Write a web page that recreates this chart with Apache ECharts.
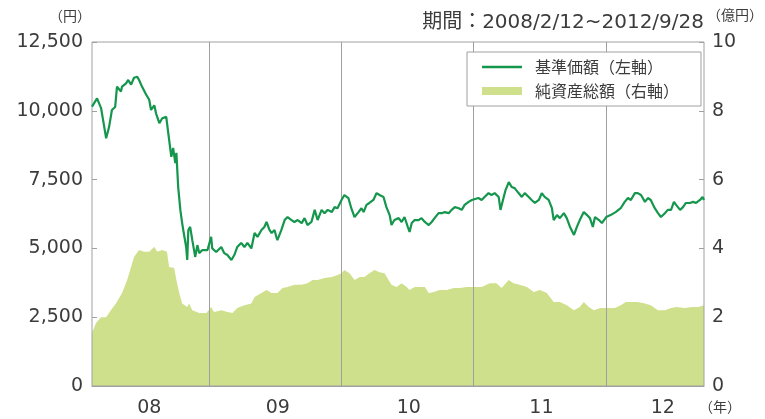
<!DOCTYPE html>
<html><head><meta charset="utf-8">
<script src="https://cdn.jsdelivr.net/npm/echarts@6/dist/echarts.min.js"></script>
<style>html,body{margin:0;padding:0;background:#fff}#c{width:765px;height:419px}</style>
</head><body><div id="c"></div>
<script>
// 基準価額 (円)
const navDates = [
'2008-02-12','2008-02-26','2008-03-08','2008-03-16','2008-03-22','2008-03-30','2008-04-07','2008-04-16','2008-04-21','2008-05-02',
'2008-05-05','2008-05-16','2008-05-22','2008-05-30','2008-06-07','2008-06-16','2008-06-21','2008-06-29','2008-07-10','2008-07-19',
'2008-07-24','2008-08-02','2008-08-07','2008-08-16','2008-08-24','2008-09-04','2008-09-12','2008-09-18','2008-09-23','2008-09-29',
'2008-10-02','2008-10-07','2008-10-13','2008-10-18','2008-10-21','2008-10-29','2008-11-01','2008-11-04','2008-11-09','2008-11-15',
'2008-11-23','2008-11-29','2008-12-04','2008-12-13','2008-12-27',
'2009-01-06','2009-01-09','2009-01-20','2009-02-03','2009-02-11','2009-02-20','2009-03-03','2009-03-11','2009-03-19','2009-03-30',
'2009-04-08','2009-04-16','2009-04-27','2009-05-06','2009-05-14','2009-05-25','2009-06-02','2009-06-08','2009-06-16','2009-06-22',
'2009-06-30','2009-07-05','2009-07-08','2009-07-19','2009-07-28','2009-08-05','2009-08-16','2009-08-24','2009-09-02','2009-09-13',
'2009-09-21','2009-09-29','2009-10-10','2009-10-19','2009-10-27','2009-11-07','2009-11-15','2009-11-24','2009-12-05','2009-12-13',
'2009-12-21',
'2010-01-01','2010-01-09','2010-01-20','2010-01-28','2010-02-06','2010-02-17','2010-02-25','2010-03-03','2010-03-11','2010-03-19',
'2010-03-30','2010-04-08','2010-04-16','2010-04-27','2010-05-05','2010-05-14','2010-05-19','2010-05-27','2010-06-08','2010-06-16',
'2010-06-24','2010-07-03','2010-07-08','2010-07-14','2010-07-22','2010-08-02','2010-08-10','2010-08-19','2010-08-30','2010-09-07',
'2010-09-15','2010-09-26','2010-10-05','2010-10-13','2010-10-24','2010-11-01','2010-11-10','2010-11-21','2010-11-29','2010-12-07',
'2010-12-18','2010-12-27',
'2011-01-14','2011-01-23','2011-01-31','2011-02-11','2011-02-19','2011-02-28','2011-03-11','2011-03-16','2011-03-25','2011-03-30',
'2011-04-08','2011-04-16','2011-04-24','2011-05-05','2011-05-14','2011-05-22','2011-06-02','2011-06-10','2011-06-19','2011-06-30',
'2011-07-08','2011-07-16','2011-07-27','2011-08-05','2011-08-10','2011-08-19','2011-08-27','2011-09-07','2011-09-15','2011-09-24',
'2011-10-05','2011-10-13','2011-10-21','2011-11-01','2011-11-10','2011-11-18','2011-11-26','2011-12-02','2011-12-13','2011-12-21',
'2012-01-02','2012-01-14','2012-01-28','2012-02-11','2012-02-22','2012-03-02','2012-03-10','2012-03-21','2012-03-29','2012-04-07',
'2012-04-18','2012-04-26','2012-05-04','2012-05-15','2012-05-24','2012-06-01','2012-06-12','2012-06-20','2012-06-29','2012-07-07',
'2012-07-13','2012-07-24','2012-08-01','2012-08-09','2012-08-20','2012-08-29','2012-09-06','2012-09-17','2012-09-24','2012-09-28'
];
const navValues = [
10150,10450,10100,9480,9000,9400,10030,10140,10880,10700,
10880,11000,11120,10950,11200,11240,11120,10880,10600,10400,
10030,10200,9900,9550,9730,9780,8940,8330,8650,8100,
8470,7230,6390,5920,5670,5050,4580,5670,5780,5300,
4690,5120,4830,4940,4940,
5420,5000,4870,5050,4830,4760,4580,4760,5050,5200,
5050,5200,5000,5560,5420,5670,5780,5960,5670,5560,
5670,5420,5300,5670,6030,6140,6030,5960,6030,5920,
6100,5850,5960,6400,6030,6400,6280,6400,6320,6500,
6460,
6760,6940,6830,6460,6140,6320,6460,6320,6580,6650,
6760,7010,6940,6870,6500,6210,5850,6030,6100,5960,
6140,5780,5600,5920,6030,6030,6100,5960,5850,5960,
6100,6280,6280,6320,6280,6400,6500,6460,6400,6580,
6690,6760,
6830,6760,6870,7010,6940,7010,6870,6400,6870,7120,
7410,7230,7190,7010,6870,7010,6870,6760,6650,6760,
7010,6870,6760,6460,6030,6210,6100,6280,6100,5780,
5490,5780,6030,6320,6210,6100,5780,6140,6030,5920,
6140,6210,6320,6460,6690,6830,6760,7010,7010,6940,
6690,6830,6760,6460,6280,6140,6280,6400,6400,6690,
6580,6400,6500,6650,6650,6690,6650,6760,6870,6760
];
// 純資産総額 (億円)
const aumDates = [
'2008-02-12','2008-02-23','2008-03-08','2008-03-22','2008-04-04','2008-04-18','2008-05-05','2008-05-19','2008-05-30','2008-06-07',
'2008-06-21','2008-07-05','2008-07-19','2008-08-02','2008-08-10','2008-08-24','2008-09-06','2008-09-12','2008-09-26','2008-10-02',
'2008-10-10','2008-10-18','2008-11-01','2008-11-06','2008-11-15','2008-12-04','2008-12-24',
'2009-01-06','2009-01-14','2009-02-03','2009-02-20','2009-03-06','2009-03-19','2009-04-08','2009-04-27','2009-05-06','2009-05-25',
'2009-06-08','2009-06-22','2009-07-08','2009-07-22','2009-08-05','2009-08-24','2009-09-13','2009-09-29','2009-10-13','2009-10-27',
'2009-11-15','2009-12-05','2009-12-21',
'2010-01-01','2010-01-09','2010-01-23','2010-02-06','2010-02-20','2010-03-05','2010-03-19','2010-04-02','2010-04-16','2010-04-30',
'2010-05-11','2010-05-19','2010-06-02','2010-06-16','2010-06-30','2010-07-08','2010-07-22','2010-08-05','2010-08-19','2010-08-30',
'2010-09-13','2010-09-29','2010-10-19','2010-11-07','2010-11-24','2010-12-13',
'2011-01-01','2011-01-23','2011-02-14','2011-03-05','2011-03-19','2011-04-08','2011-04-21','2011-05-08','2011-05-28','2011-06-16',
'2011-07-03','2011-07-22','2011-08-10','2011-08-27','2011-09-15','2011-10-05','2011-10-21','2011-11-01','2011-11-15','2011-11-29',
'2011-12-16',
'2012-01-01','2012-01-26','2012-02-11','2012-02-25','2012-03-10','2012-03-29','2012-04-18','2012-05-04','2012-05-24','2012-06-12',
'2012-06-29','2012-07-13','2012-08-07','2012-08-24','2012-09-12','2012-09-28'
];
const aumValues = [
1.54,1.83,2.0,2.0,2.2,2.4,2.7,3.08,3.46,3.75,
3.95,3.9,3.9,4.05,3.9,3.95,3.9,3.46,3.43,3.08,
2.7,2.4,2.3,2.4,2.2,2.12,2.12,
2.3,2.15,2.2,2.15,2.12,2.27,2.35,2.4,2.59,2.7,
2.79,2.7,2.7,2.85,2.88,2.94,2.94,2.99,3.08,3.08,
3.14,3.17,3.23,
3.28,3.37,3.28,3.08,3.17,3.17,3.28,3.37,3.31,3.28,
3.08,2.94,2.88,2.99,2.88,2.79,2.88,2.88,2.88,2.7,
2.73,2.79,2.79,2.85,2.85,2.88,
2.88,2.88,2.99,2.99,2.85,3.08,2.99,2.94,2.88,2.73,
2.79,2.7,2.44,2.44,2.35,2.2,2.3,2.44,2.3,2.2,
2.27,
2.27,2.27,2.35,2.44,2.44,2.44,2.4,2.35,2.2,2.2,
2.27,2.3,2.27,2.3,2.3,2.35
];
const yearStarts = ['2009-01-01','2010-01-01','2011-01-01','2012-01-01'];
const yearLabelDates = ['2008-07-19','2009-07-09','2010-07-06','2011-07-07','2012-06-06'];
const seriesNames = ['基準価額（左軸）','純資産総額（右軸）'];

const P = d => echarts.time.parse(d).getTime();
const TXT = '#3c3c3c';
const GRAY = '#a0a0a0';
const LINE = '#15964d';
const AREA = '#cfe08c';
const NUMF = "'DejaVu Sans','Noto Sans CJK JP',sans-serif";
const JPF = "'Noto Sans CJK JP',sans-serif";

const chart = echarts.init(document.getElementById('c'));
chart.setOption({
  animation: false,
  title: [
    {text: '期間：2008/2/12~2012/9/28', right: 61, top: 13, padding: 0,
     textStyle: {fontSize: 20, fontWeight: 'normal', color: TXT, fontFamily: NUMF}},
    {text: '（円）', left: 49, top: 9, padding: 0,
     textStyle: {fontSize: 14, fontWeight: 'normal', color: TXT, fontFamily: JPF}},
    {text: '（億円）', left: 707, top: 8, padding: 0,
     textStyle: {fontSize: 14, fontWeight: 'normal', color: TXT, fontFamily: JPF}},
    {text: '（年）', left: 699, top: 400, padding: 0,
     textStyle: {fontSize: 14, fontWeight: 'normal', color: TXT, fontFamily: JPF}}
  ],
  legend: {
    orient: 'vertical', left: 467, top: 52, z: 10,
    padding: [7, 22, 7, 15], itemGap: 8, itemWidth: 40, itemHeight: 14,
    borderColor: GRAY, borderWidth: 1, backgroundColor: '#fff',
    textStyle: {fontSize: 16, color: TXT, fontFamily: JPF, padding: [0, 0, 0, 8]},
    data: [
      {name: seriesNames[0], icon: 'path://M0,0H40V2.5H0Z'},
      {name: seriesNames[1], icon: 'path://M0,0H40V8H0Z'}
    ]
  },
  grid: {left: 92, right: 61, top: 42, bottom: 33, show: true, borderColor: GRAY, borderWidth: 1, z: 3, backgroundColor: 'transparent'},
  xAxis: {
    type: 'value', min: P(navDates[0]), max: P(navDates[navDates.length - 1]), z: 3,
    axisLine: {show: true, lineStyle: {color: GRAY}},
    axisTick: {show: false, customValues: yearStarts.map(P)},
    splitLine: {show: true, lineStyle: {color: GRAY, width: 1}},
    axisLabel: {
      customValues: yearLabelDates.map(P),
      formatter: v => String(new Date(v).getUTCFullYear()).slice(2),
      fontSize: 19, color: TXT, margin: 13, fontFamily: NUMF
    }
  },
  yAxis: [
    {type: 'value', min: 0, max: 12500, interval: 2500, position: 'left',
     axisLine: {show: false}, splitLine: {show: false},
     axisTick: {show: true, inside: true, length: 5, lineStyle: {color: GRAY}},
     axisLabel: {fontSize: 19, color: TXT, margin: 9, fontFamily: NUMF,
       formatter: v => v.toLocaleString('en-US')}},
    {type: 'value', min: 0, max: 10, interval: 2, position: 'right',
     axisLine: {show: false}, splitLine: {show: false},
     axisTick: {show: true, inside: true, length: 5, lineStyle: {color: GRAY}},
     axisLabel: {fontSize: 19, color: TXT, margin: 8, fontFamily: NUMF}}
  ],
  series: [
    {name: seriesNames[1], type: 'line', yAxisIndex: 1, z: 1, symbol: 'none', showSymbol: false,
     color: AREA, itemStyle: {color: AREA}, lineStyle: {width: 0, color: AREA},
     areaStyle: {color: AREA, opacity: 1},
     data: aumDates.map((d, i) => [P(d), aumValues[i]])},
    {name: seriesNames[0], type: 'line', yAxisIndex: 0, z: 5, symbol: 'none', showSymbol: false,
     color: LINE, itemStyle: {color: LINE}, lineStyle: {width: 2.2, color: LINE},
     data: navDates.map((d, i) => [P(d), navValues[i]])}
  ]
});
</script>
</body></html>
